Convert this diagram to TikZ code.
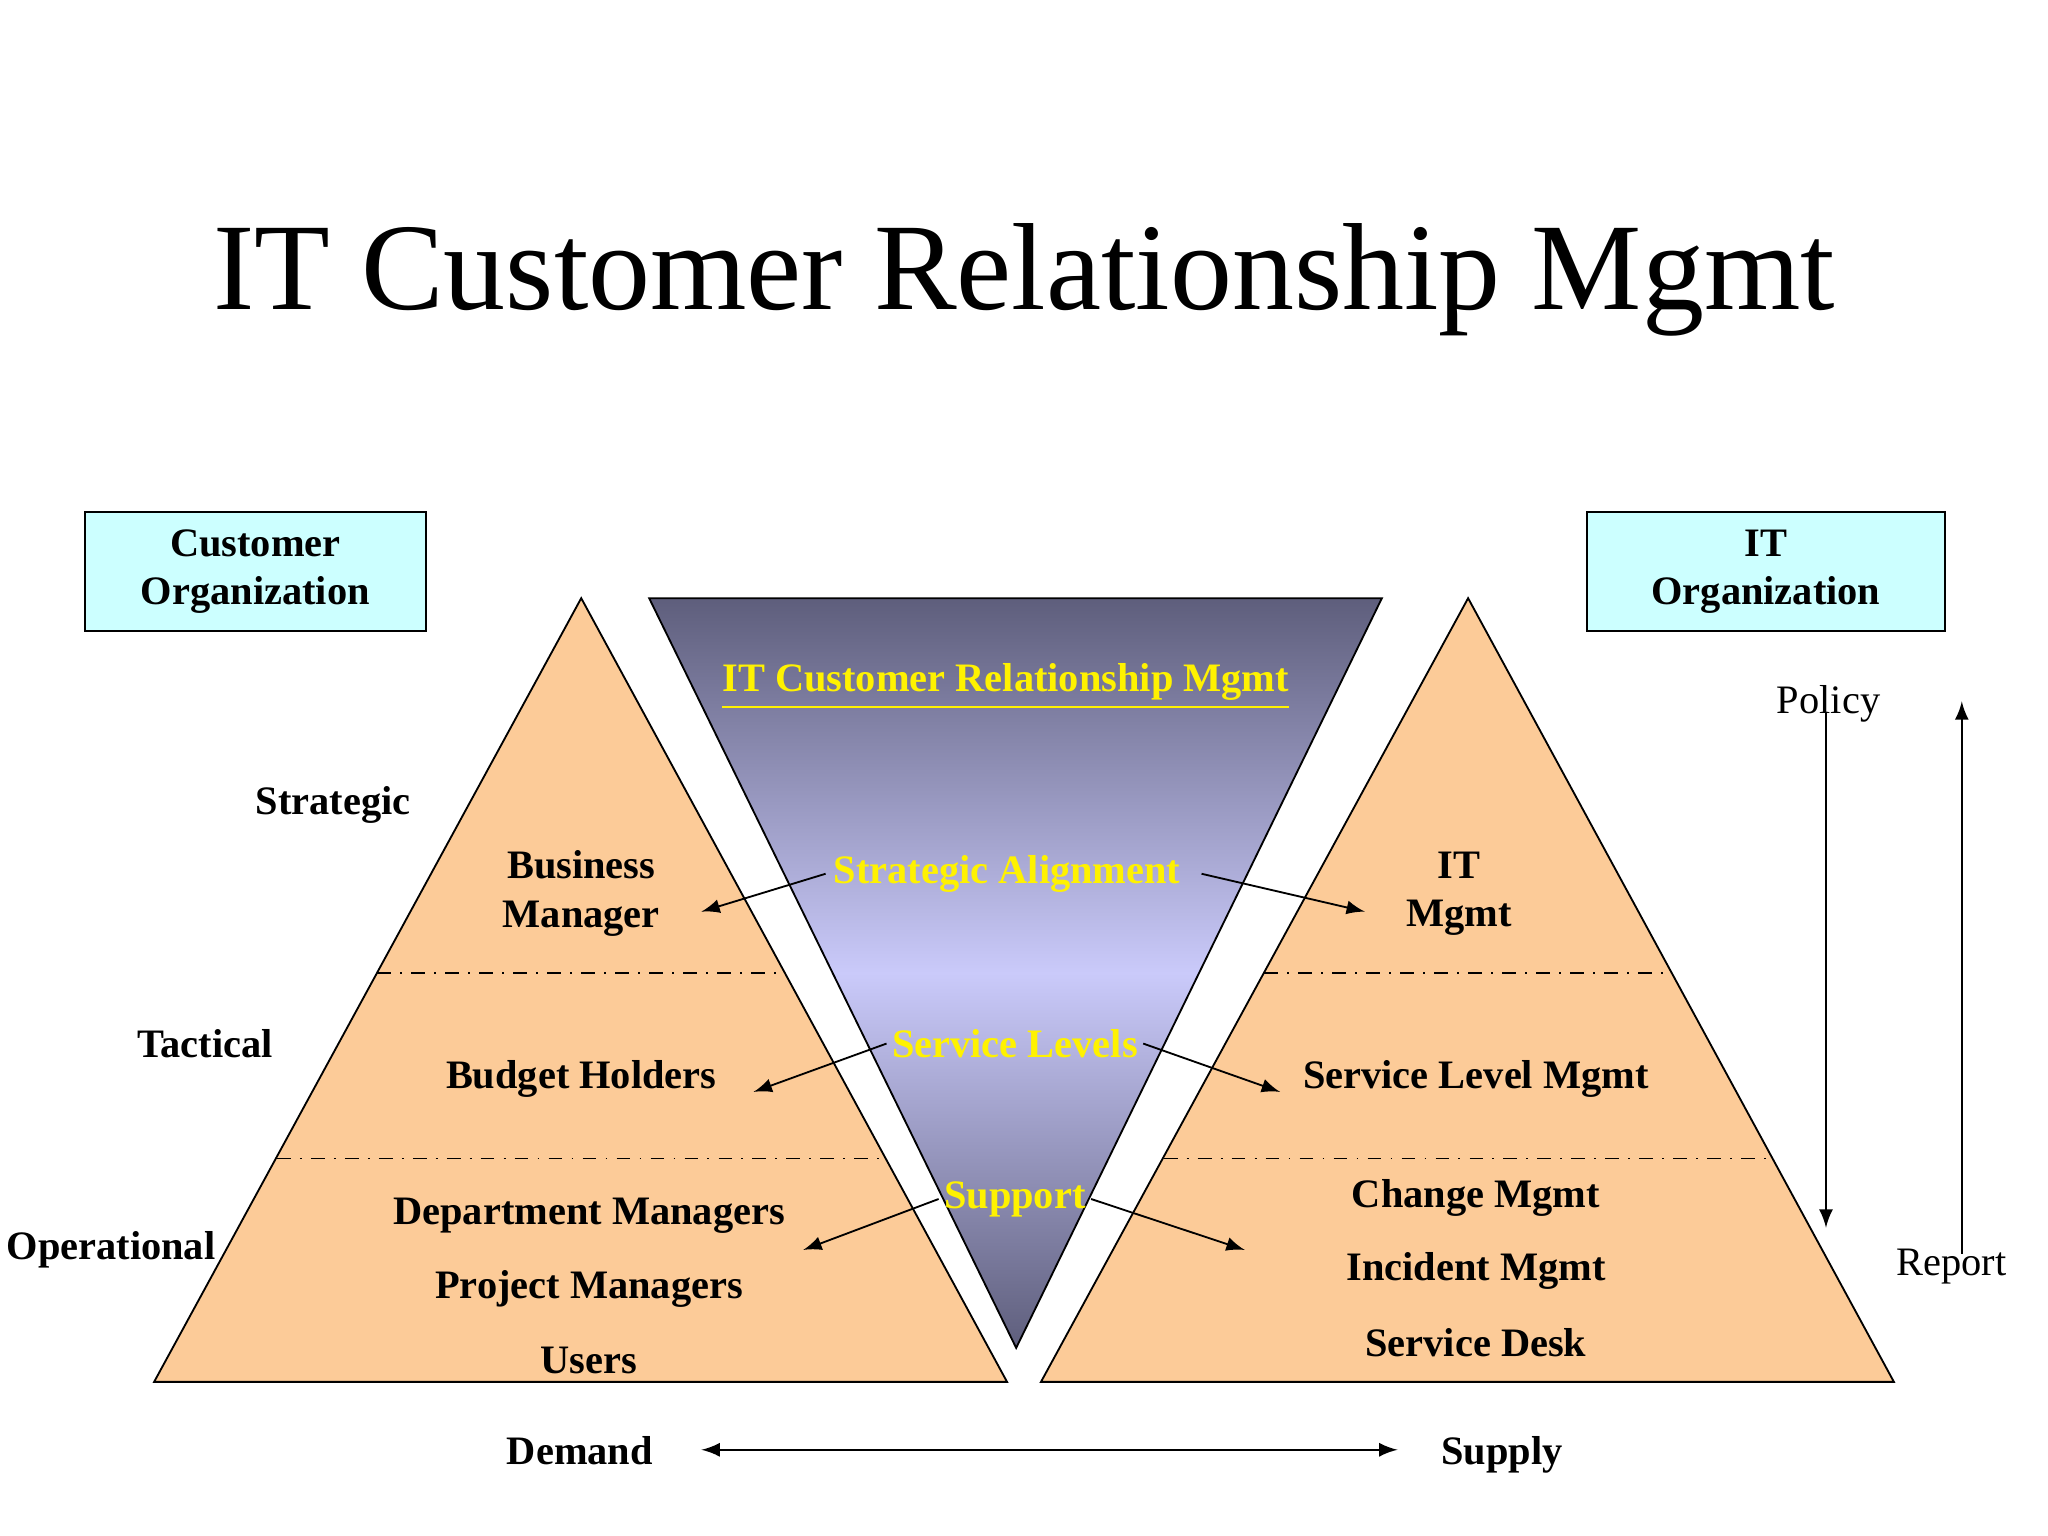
\documentclass[tikz,border=0pt]{standalone}
\usepackage{fontspec}
\setmainfont{Liberation Serif}
\usepackage{xcolor}
\usetikzlibrary{shapes,arrows,positioning,calc}
\definecolor{peach}{HTML}{FCCB98}
\definecolor{boxcyan}{HTML}{CCFFFF}
\definecolor{funtop}{HTML}{5E5E7C}
\definecolor{funmid}{HTML}{CACAFA}
\begin{document}
\begin{tikzpicture}[
    lbl/.style={font=\fontsize{8.8}{10.5}\selectfont\bfseries, align=center},
    ylbl/.style={font=\fontsize{8.8}{10.5}\selectfont\bfseries, text=yellow, inner sep=1pt},
    org/.style={rectangle, draw, fill=boxcyan, minimum width=2.65cm, minimum height=0.91cm, align=center, font=\fontsize{8.8}{10.5}\selectfont\bfseries},
    tri/.style={draw, fill=peach},
    lvl/.style={dash dot},
    flow/.style={-latex}]
    \useasboundingbox (0,0) rectangle (15.68,11.76);

    % Title
    \node[font=\fontsize{27}{30}\selectfont] (title) at (7.84,9.62) {IT Customer Relationship Mgmt};

    % Pyramids
    \draw[tri] (4.45,7.18) -- (1.18,1.18) -- (7.71,1.18) -- cycle;
    \draw[tri] (11.24,7.18) -- (7.97,1.18) -- (14.50,1.18) -- cycle;
    \shade[top color=funtop, bottom color=funtop, middle color=funmid]
        (4.97,7.18) -- (10.58,7.18) -- (7.78,1.44) -- cycle;
    \draw (4.97,7.18) -- (10.58,7.18) -- (7.78,1.44) -- cycle;

    % Level lines
    \draw[lvl] (2.89,4.31) -- (6.01,4.31);
    \draw[lvl] (2.12,2.89) -- (6.78,2.89);
    \draw[lvl] (9.68,4.31) -- (12.80,4.31);
    \draw[lvl] (8.91,2.89) -- (13.57,2.89);

    % Organisations
    \node[org, minimum width=2.61cm] (cust) at (1.955,7.385) {Customer\\Organization};
    \node[org, minimum width=2.74cm] (itorg) at (13.52,7.385) {IT\\Organization};

    % Levels
    \node[lbl] (strat) at (2.55,5.60) {Strategic};
    \node[lbl] (tact) at (1.57,3.77) {Tactical};
    \node[lbl] (oper) at (0.85,2.19) {Operational};

    % Demand side
    \node[lbl] (bm) at (4.45,4.92) {Business\\Manager};
    \node[lbl] (bh) at (4.45,3.50) {Budget Holders};
    \node[lbl] (dm) at (4.51,2.45) {Department Managers};
    \node[lbl] (pm) at (4.51,1.89) {Project Managers};
    \node[lbl] (us) at (4.51,1.34) {Users};

    % Supply side
    \node[lbl] (itm) at (11.17,4.92) {IT\\Mgmt};
    \node[lbl] (slm) at (11.30,3.50) {Service Level Mgmt};
    \node[lbl] (chm) at (11.30,2.59) {Change Mgmt};
    \node[lbl] (inm) at (11.30,2.03) {Incident Mgmt};
    \node[lbl] (sd) at (11.30,1.48) {Service Desk};

    % Funnel texts
    \node[ylbl] (crm) at (7.70,6.50) {\underline{IT Customer Relationship Mgmt}};
    \node[ylbl] (sa) at (7.71,5.07) {Strategic Alignment};
    \node[ylbl] (sl) at (7.77,3.77) {Service Levels};
    \node[ylbl] (sup) at (7.77,2.58) {Support};

    \coordinate (saL) at (5.37,4.78);
    \coordinate (saR) at (10.45,4.78);
    \coordinate (slL) at (5.77,3.40);
    \coordinate (slR) at (9.80,3.40);
    \coordinate (supL) at (6.15,2.19);
    \coordinate (supR) at (9.53,2.19);
    \draw[flow] ([xshift=-0.02cm]sa.west) -- (saL);
    \draw[flow] ([xshift=0.12cm]sa.east) -- (saR);
    \draw[flow] (sl.west) -- (slL);
    \draw[flow] (sl.east) -- (slR);
    \draw[flow] (sup.west) -- (supL);
    \draw[flow] (sup.east) -- (supR);

    % Policy / Report
    \node[font=\fontsize{8.8}{10.5}\selectfont] (pol) at (14.00,6.37) {Policy};
    \node[font=\fontsize{8.8}{10.5}\selectfont] (rep) at (14.94,2.06) {Report};
    \coordinate (polE) at (13.98,2.36);
    \coordinate (repS) at (15.02,2.16);
    \coordinate (repE) at (15.02,6.39);
    \draw[flow] (13.98,6.30) -- (polE);
    \draw[flow] (repS) -- (repE);

    % Demand / Supply
    \node[lbl, anchor=base] (dem) at (4.44,0.55) {Demand};
    \node[lbl, anchor=base] (supp) at (11.50,0.55) {Supply};
    \coordinate (demE) at (5.37,0.66);
    \coordinate (supW) at (10.70,0.66);
    \draw[latex-latex] (demE) -- (supW);
\end{tikzpicture}
\end{document}
